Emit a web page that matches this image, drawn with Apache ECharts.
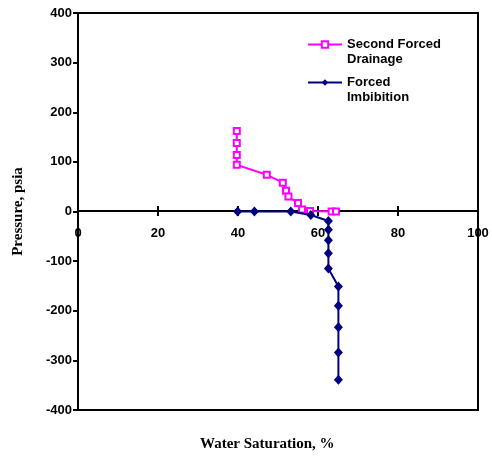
<!DOCTYPE html>
<html>
<head>
<meta charset="utf-8">
<script src="https://cdn.jsdelivr.net/npm/echarts@6/dist/echarts.min.js"></script>
<style>
  html, body { margin: 0; padding: 0; background: #fff; }
  #chart { width: 492px; height: 458px; }
</style>
</head>
<body>
<div id="chart"></div>
<script>
// second forced drainage (water saturation %, pressure psia)
const drainageSw = [39.7, 39.7, 39.7, 39.7, 47.2, 51.2, 52.0, 52.6, 55.0, 56.0, 58.0, 63.4, 64.5];
const drainageP = [162, 138, 114, 94, 74, 58, 42, 30, 17, 4, 1, 0, 0];

// forced imbibition
const imbibitionSw = [39.9, 44.1, 53.2, 58.2, 62.6, 62.6, 62.6, 62.6, 62.6, 65.1, 65.1, 65.1, 65.1, 65.1];
const imbibitionP = [0, 0, 0, -7, -19, -37, -58, -84, -115, -151, -190, -233, -284, -339];

const seriesNames = ['Second Forced\nDrainage', 'Forced\nImbibition'];

const pairs = (xs, ys) => xs.map((x, i) => [x, ys[i]]);

const chart = echarts.init(document.getElementById('chart'));

const labelFont = {
    color: '#000',
    fontFamily: 'Liberation Sans, Arial, sans-serif',
    fontWeight: 'bold',
    fontSize: 13
};

// the x axis sits on pressure = 0, i.e. half way up the plot (410 - 211 px)
const zeroOffset = -199;

// one legend per series so the icon lines up with the first text line
const makeLegend = (name, top) => ({
    left: 302,
    top: top,
    itemWidth: 34,
    itemHeight: 8,
    formatter: n => '\n' + n,
    textStyle: Object.assign({}, labelFont, { lineHeight: 15 }),
    data: [name]
});

const xAxisBase = {
    type: 'value',
    position: 'bottom',
    offset: zeroOffset,
    min: 0,
    max: 100,
    interval: 20,
    axisLine: { onZero: false, lineStyle: { color: '#000', width: 2 } },
    splitLine: { show: false }
};

const option = {
    animation: false,
    grid: {
        left: 78,
        right: 14,
        top: 13,
        bottom: 48,
        show: true,
        borderColor: '#000',
        borderWidth: 2,
        backgroundColor: 'transparent'
    },
    legend: [makeLegend(seriesNames[0], 17), makeLegend(seriesNames[1], 55)],
    xAxis: [Object.assign({}, xAxisBase, {
        axisTick: { length: 5, lineStyle: { color: '#000', width: 2 } },
        axisLabel: Object.assign({ margin: 16 }, labelFont)
    }), Object.assign({}, xAxisBase, {
        axisTick: { inside: true, length: 5, lineStyle: { color: '#000', width: 2 } },
        axisLabel: { show: false }
    })],
    yAxis: {
        type: 'value',
        min: -400,
        max: 400,
        interval: 100,
        name: 'Pressure, psia',
        nameLocation: 'middle',
        nameGap: 52,
        nameTextStyle: {
            color: '#000',
            fontFamily: 'Liberation Serif, Times New Roman, serif',
            fontWeight: 'bold',
            fontSize: 15
        },
        axisLine: { show: true, lineStyle: { color: '#000', width: 2 } },
        axisTick: { show: true, length: 5, lineStyle: { color: '#000', width: 2 } },
        axisLabel: Object.assign({ margin: 6 }, labelFont),
        splitLine: { show: false }
    },
    graphic: [{
        type: 'text',
        left: 200,
        top: 437,
        style: {
            text: 'Water Saturation, %',
            fill: '#000',
            font: 'bold 15px "Liberation Serif", "Times New Roman", serif'
        }
    }],
    series: [{
        name: seriesNames[0],
        type: 'line',
        data: pairs(drainageSw, drainageP),
        symbol: 'rect',
        symbolSize: 6,
        lineStyle: { color: '#ff00ff', width: 2 },
        itemStyle: { color: '#fff', borderColor: '#ff00ff', borderWidth: 2 },
        z: 3
    }, {
        name: seriesNames[1],
        type: 'line',
        data: pairs(imbibitionSw, imbibitionP),
        symbol: 'diamond',
        symbolSize: [9, 10],
        lineStyle: { color: '#000080', width: 2 },
        itemStyle: { color: '#000080' },
        z: 4
    }]
};

chart.setOption(option);
</script>
</body>
</html>
